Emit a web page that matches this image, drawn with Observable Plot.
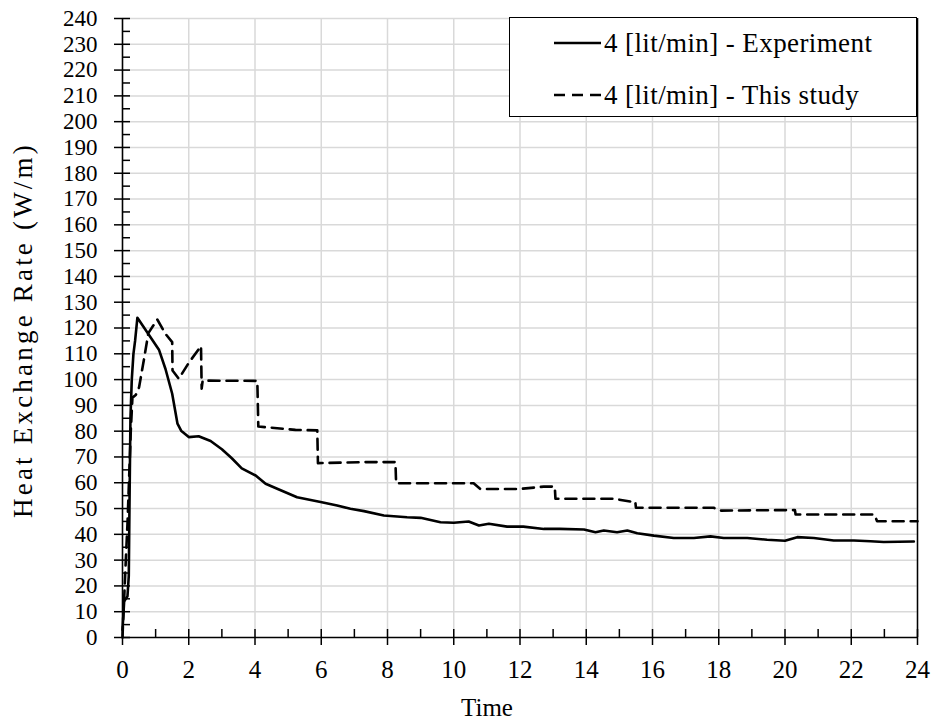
<!DOCTYPE html>
<html><head><meta charset="utf-8">
<script src="https://cdn.jsdelivr.net/npm/d3@7"></script>
<script src="https://cdn.jsdelivr.net/npm/@observablehq/plot@0.6"></script>
<style>
body{margin:0;background:#fff;}
#wrap{position:relative;width:936px;height:724px;font-family:"Liberation Serif",serif;color:#000;}
#legend{position:absolute;left:509px;top:17px;width:406px;height:98px;border:1.6px solid #000;background:#fff;}
.item{position:absolute;left:44px;height:30px;display:flex;align-items:center;font-size:27px;letter-spacing:0.4px;white-space:nowrap;}
.item svg{margin-right:3px;}
</style></head><body><div id="wrap"></div>
<script>
// ---- data ----
const xDomain = [0, 24];
const yDomain = [0, 240];
const xMajor = [0, 2, 4, 6, 8, 10, 12, 14, 16, 18, 20, 22, 24];
const xMinor = [1, 3, 5, 7, 9, 11, 13, 15, 17, 19, 21, 23];
const yMajor = [0,10,20,30,40,50,60,70,80,90,100,110,120,130,140,150,160,170,180,190,200,210,220,230,240];
const yMinor = [5,15,25,35,45,55,65,75,85,95,105,115,125,135,145,155,165,175,185,195,205,215,225,235];
const seriesNames = ["4 [lit/min] - Experiment", "4 [lit/min] - This study"];
const xTitle = "Time";
const yTitle = "Heat Exchange Rate (W/m)";

const expT = [0, 0.05, 0.1, 0.15, 0.19, 0.21, 0.24, 0.28, 0.33, 0.38, 0.45, 0.78, 1.1, 1.3, 1.5, 1.66, 1.77, 2.0, 2.3, 2.66, 3.0, 3.3, 3.6, 4.02, 4.32, 4.67, 5.27, 5.98, 6.48, 6.88, 7.29, 7.89, 8.59, 9.0, 9.6, 10.0, 10.45, 10.76, 11.06, 11.61, 12.1, 12.72, 13.2, 13.93, 14.28, 14.53, 14.93, 15.24, 15.54, 16.04, 16.64, 17.25, 17.75, 18.15, 18.86, 19.46, 20.0, 20.37, 20.87, 21.47, 22.08, 22.58, 22.98, 23.89];
const expV = [3, 14, 15, 16, 24, 50, 85, 100, 110, 115, 124, 117.7, 111.6, 104, 94.5, 82.9, 80.2, 77.7, 78, 76.2, 73, 69.5, 65.6, 62.8, 59.6, 57.7, 54.4, 52.5, 51.2, 49.9, 49, 47.3, 46.6, 46.4, 44.7, 44.5, 45, 43.4, 44.1, 43, 43, 42.1, 42.1, 41.9, 40.8, 41.5, 40.8, 41.5, 40.4, 39.5, 38.6, 38.6, 39.2, 38.6, 38.6, 37.9, 37.5, 38.9, 38.6, 37.6, 37.6, 37.3, 37.0, 37.2];

const simT = [0, 0.02, 0.05, 0.1, 0.15, 0.2, 0.25, 0.3, 0.4, 0.5, 0.65, 0.78, 1.05, 1.3, 1.5, 1.51, 1.7, 2.0, 2.37, 2.39, 2.42, 4.07, 4.1, 5.22, 5.88, 5.9, 7.28, 8.24, 8.26, 10.6, 10.8, 12.0, 12.72, 13.05, 13.07, 14.83, 15.34, 15.48, 15.5, 17.85, 18.05, 19.96, 20.3, 20.32, 22.7, 22.78, 24.0];
const simV = [0, 7, 15, 30, 44, 62, 80, 93, 94, 97, 108, 118, 123.3, 117.7, 114.5, 103.5, 100.3, 106.5, 113, 96.5, 99.6, 99.5, 81.8, 80.5, 80.3, 67.6, 68, 68, 59.8, 59.8, 57.6, 57.6, 58.5, 58.5, 53.8, 53.8, 52.7, 52.7, 50.3, 50.3, 49.2, 49.4, 49.4, 47.7, 47.7, 45.1, 45.1];

// ---- build ----
const expRows = expT.map((t, i) => ({t, v: expV[i]}));
const simRows = simT.map((t, i) => ({t, v: simV[i]}));

const FONT = "'Liberation Serif', serif";
const gridStyle = {stroke: "#d9d9d9", strokeOpacity: 1, strokeWidth: 1.5};

const chart = Plot.plot({
  width: 936, height: 724,
  marginLeft: 122, marginRight: 19, marginTop: 18, marginBottom: 87,
  x: {domain: xDomain},
  y: {domain: yDomain},
  style: {fontFamily: FONT, fontSize: "25px", color: "#000", background: "#fff", overflow: "visible"},
  marks: [
    Plot.gridX({ticks: xMajor.filter(d => d > xDomain[0]), ...gridStyle}),
    Plot.gridY({ticks: yMajor.filter(d => d > yDomain[0]), ...gridStyle}),
    Plot.ruleX([xDomain[1]], {stroke: "#000", strokeWidth: 1.5}),
    Plot.line(simRows, {x: "t", y: "v", stroke: "#000", strokeWidth: 2.6, strokeDasharray: "11,7"}),
    Plot.line(expRows, {x: "t", y: "v", stroke: "#000", strokeWidth: 2.6}),
    // axis lines
    Plot.ruleX([xDomain[0]], {stroke: "#000", strokeWidth: 1.6}),
    Plot.ruleY([yDomain[0]], {stroke: "#000", strokeWidth: 1.6}),
    // y ticks: major cross the axis, minor inside
    Plot.ruleY(yMajor, {y: d => d, x1: xDomain[0], x2: xDomain[0], insetLeft: -8, insetRight: -8, stroke: "#000", strokeWidth: 1.5}),
    Plot.ruleY(yMinor, {y: d => d, x1: xDomain[0], x2: xDomain[0], insetLeft: 0, insetRight: -8, stroke: "#000", strokeWidth: 1.5}),
    // x ticks
    Plot.ruleX(xMajor, {x: d => d, y1: yDomain[0], y2: yDomain[0], insetTop: 8, insetBottom: 8, stroke: "#000", strokeWidth: 1.5}),
    Plot.ruleX(xMinor, {x: d => d, y1: yDomain[0], y2: yDomain[0], insetTop: 0, insetBottom: 8, stroke: "#000", strokeWidth: 1.5}),
    Plot.axisX({ticks: xMajor, tickSize: 0, tickPadding: 23, label: null, fontSize: 25, tickFormat: d => String(d)}),
    Plot.axisY({ticks: yMajor, tickSize: 0, tickPadding: 25, label: null, fontSize: 23, tickFormat: d => String(d)}),
    Plot.text([xTitle], {text: d => d, frameAnchor: "bottom", dy: 78, dx: -33, fontSize: 25}),
    Plot.text([yTitle], {text: d => d, frameAnchor: "left", textAnchor: "middle", dx: -99, dy: 2, rotate: -90, fontSize: 27})
  ]
});

// widen the rotated y title's letter spacing
d3.select(chart).selectAll("text").filter(function() { return this.textContent === yTitle; })
  .style("letter-spacing", "3.2px");

const wrap = document.getElementById("wrap");
wrap.appendChild(chart);

// legend (HTML overlay)
const legend = document.createElement("div");
legend.id = "legend";
const tops = [10, 62];
seriesNames.forEach((name, i) => {
  const item = document.createElement("div");
  item.className = "item";
  item.style.top = tops[i] + "px";
  const dash = i === 1 ? 'stroke-dasharray="11,7"' : "";
  item.innerHTML = `<svg width="47" height="10"><line x1="0" y1="5" x2="47" y2="5" stroke="#000" stroke-width="2.6" ${dash}/></svg><span>${name}</span>`;
  legend.appendChild(item);
});
wrap.appendChild(legend);
</script>
</body></html>
